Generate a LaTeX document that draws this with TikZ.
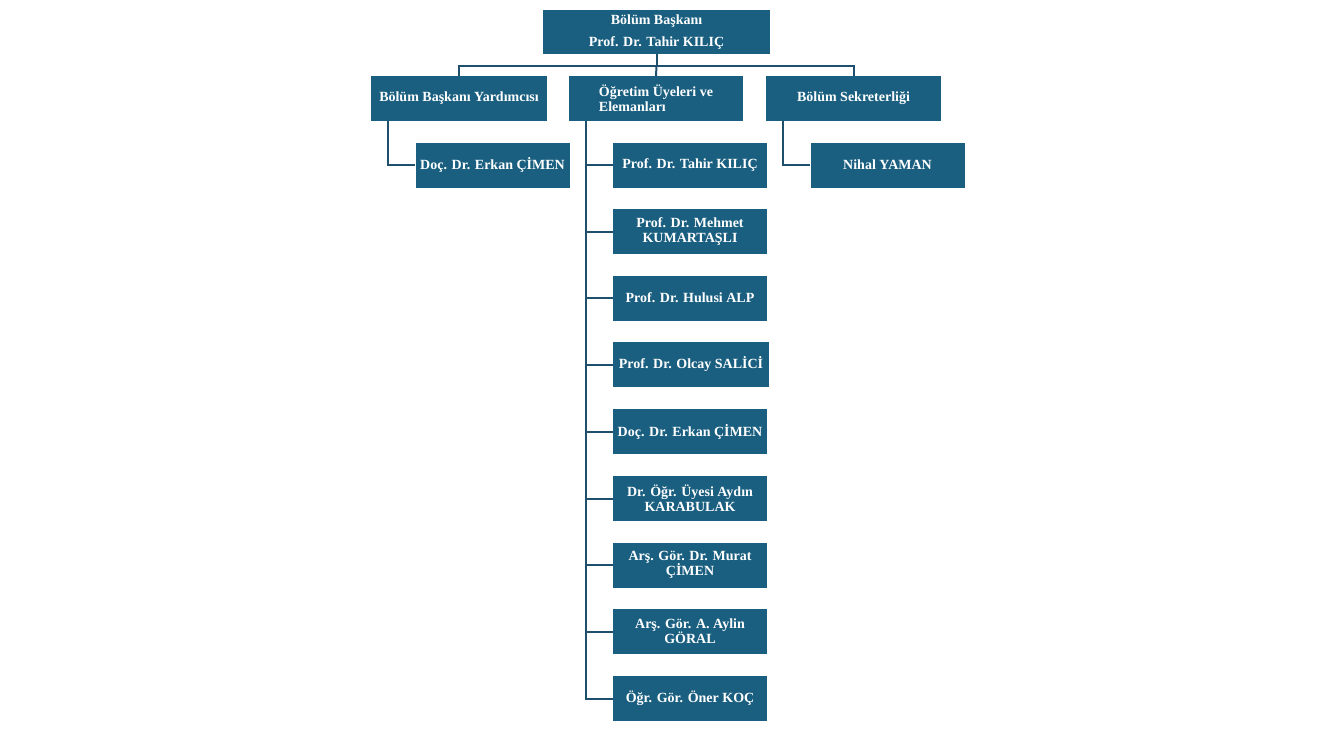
\documentclass[tikz,border=0pt]{standalone}
\usepackage{fontspec}
\setmainfont{Liberation Serif}
\usetikzlibrary{positioning}
\definecolor{orgblue}{HTML}{1A5F80}
\definecolor{orgline}{HTML}{1E4F6C}
\tikzset{
	box/.style={fill=orgblue,text=white,font=\fontsize{14}{15}\selectfont\bfseries,align=center,inner sep=0pt,minimum height=45pt},
	headbox/.style={box,minimum width=227pt,minimum height=44pt},
	unitbox/.style={box,minimum width=176pt},
	staffbox/.style={box,minimum width=154pt},
	link/.style={draw=orgline,line width=2pt}
}
\begin{document}
\begin{tikzpicture}[x=1pt,y=-1pt]
	\useasboundingbox (0,0) rectangle (1340,748);
	% top
	\node[headbox] (head) at (656.5,32) {Bölüm Başkanı\\[7pt]Prof. Dr. Tahir KILIÇ};
	\coordinate (bus) at (656.5,66);
	% second row
	\node[unitbox] (yard) at (459,98.5) {Bölüm Başkanı Yardımcısı};
	\node[unitbox,align=left,minimum width=174pt] (ogr) at (656,98.5) {Öğretim Üyeleri ve\\Elemanları};
	\node[unitbox,minimum width=175pt] (sekr) at (853.5,98.5) {Bölüm Sekreterliği};
	% people
	\node[staffbox] (erkan) at (492.5,165) {Doç. Dr. Erkan ÇİMEN};
	\node[staffbox] (nihal) at (887.5,165) {Nihal YAMAN};
	\node[staffbox] (m1) at (690,165) {Prof. Dr. Tahir KILIÇ};
	\node[staffbox] (m2) at (690,231.5) {Prof. Dr. Mehmet\\KUMARTAŞLI};
	\node[staffbox] (m3) at (690,298) {Prof. Dr. Hulusi ALP};
	\node[staffbox,minimum width=156pt] (m4) at (691,364.5) {Prof. Dr. Olcay SALİCİ};
	\node[staffbox] (m5) at (690,431.5) {Doç. Dr. Erkan ÇİMEN};
	\node[staffbox] (m6) at (690,498.5) {Dr. Öğr. Üyesi Aydın\\KARABULAK};
	\node[staffbox] (m7) at (690,565) {Arş. Gör. Dr. Murat\\ÇİMEN};
	\node[staffbox] (m8) at (690,631.5) {Arş. Gör. A. Aylin\\GÖRAL};
	\node[staffbox] (m9) at (690,698.5) {Öğr. Gör. Öner KOÇ};
	% connectors
	\draw[link] (head.south) -- (bus);
	\draw[link] (yard.north) |- (bus) -| (sekr.north);
	\draw[link] (bus) -- (ogr.north);
	\draw[link] ([xshift=-71pt]yard.south) |- (erkan.west);
	\draw[link] ([xshift=-70.5pt]sekr.south) |- (nihal.west);
	\coordinate (spine) at ([xshift=-70pt]ogr.south);
	\draw[link] (spine) |- (m9.west);
	\foreach \m in {m1,m2,m3,m4,m5,m6,m7,m8}
		\draw[link] (\m.west) -- (\m.west -| spine);
\end{tikzpicture}
\end{document}
